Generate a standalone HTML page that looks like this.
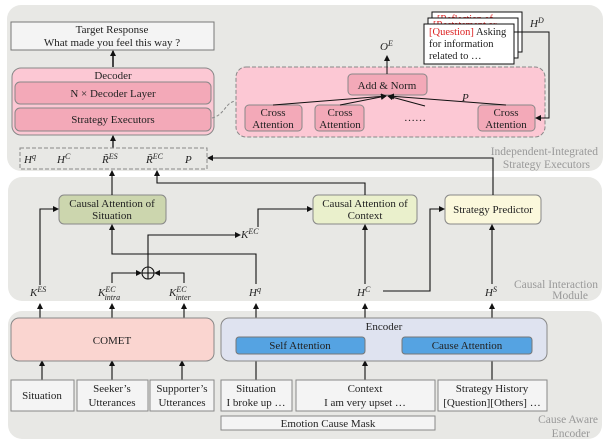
<!DOCTYPE html>
<html><head><meta charset="utf-8"><style>
html,body{margin:0;padding:0;background:#fff;width:613px;height:445px;overflow:hidden}
svg{display:block}
text{font-family:"Liberation Serif",serif;font-size:11px;fill:#222}
.i{font-style:italic}
.g{fill:#999;font-size:11.5px}
</style></head><body>
<svg width="613" height="445" viewBox="0 0 613 445" xmlns="http://www.w3.org/2000/svg">
<defs><marker id="a" markerWidth="6" markerHeight="6" refX="5" refY="3" orient="auto" markerUnits="userSpaceOnUse"><path d="M0,0 L6,3 L0,6z" fill="#111"/></marker></defs>
<!-- panels -->
<rect x="7" y="5" width="596" height="166" rx="14" fill="#e8e8e5"/>
<rect x="8" y="177" width="594" height="124" rx="14" fill="#e8e8e5"/>
<rect x="8" y="311" width="594" height="128" rx="14" fill="#e8e8e5"/>
<text class="g" x="598" y="155" text-anchor="end">Independent-Integrated</text>
<text class="g" x="590" y="168" text-anchor="end">Strategy Executors</text>
<text class="g" x="598" y="288" text-anchor="end">Causal Interaction</text>
<text class="g" x="588" y="299" text-anchor="end">Module</text>
<text class="g" x="598" y="423" text-anchor="end">Cause Aware</text>
<text class="g" x="590" y="437" text-anchor="end">Encoder</text>

<!-- top -->
<rect x="11" y="22" width="203" height="28" fill="#f4f4f4" stroke="#777"/>
<text x="112" y="33" text-anchor="middle">Target Response</text>
<text x="112" y="46" text-anchor="middle">What made you feel this way ?</text>
<line x1="113" y1="67" x2="113" y2="51" stroke="#111" stroke-width="1.5" marker-end="url(#a)"/>
<rect x="12" y="68" width="202" height="67" rx="9" fill="#fcc8d4" stroke="#888"/>
<text x="113" y="79" text-anchor="middle">Decoder</text>
<rect x="15" y="82" width="196" height="22" rx="5" fill="#f3a9b8" stroke="#888"/>
<text x="113" y="97" text-anchor="middle">N × Decoder Layer</text>
<rect x="15" y="108" width="196" height="23" rx="5" fill="#f3a9b8" stroke="#888"/>
<text x="113" y="123" text-anchor="middle">Strategy Executors</text>
<path d="M212,118 C225,115 225,102 236,101" fill="none" stroke="#888" stroke-dasharray="3,2"/>
<line x1="113" y1="148" x2="113" y2="136" stroke="#111" stroke-width="1.3" marker-end="url(#a)"/>
<rect x="20" y="148" width="187" height="21" fill="none" stroke="#888" stroke-dasharray="4,2"/>
<text class="i" x="24" y="163">H<tspan font-size="8" dy="-4">q</tspan></text>
<text class="i" x="57" y="163">H<tspan font-size="8" dy="-4">C</tspan></text>
<text class="i" x="102" y="163">R̃<tspan font-size="8" dy="-4">ES</tspan></text>
<text class="i" x="146" y="163">R̃<tspan font-size="8" dy="-4">EC</tspan></text>
<text class="i" x="185" y="163">P</text>

<rect x="236" y="67" width="309" height="70" rx="10" fill="#fcc8d4" stroke="#888" stroke-dasharray="4,2"/>
<rect x="348" y="74" width="79" height="21" rx="4" fill="#f3a9b8" stroke="#888"/>
<text x="387" y="89" text-anchor="middle">Add &amp; Norm</text>
<line x1="387" y1="74" x2="387" y2="56" stroke="#111" marker-end="url(#a)"/>
<text class="i" x="380" y="50">O<tspan font-size="8" dy="-4">E</tspan></text>
<rect x="245" y="105" width="57" height="26" rx="4" fill="#f3a9b8" stroke="#888"/>
<text x="273" y="116" text-anchor="middle">Cross</text><text x="273" y="128" text-anchor="middle">Attention</text>
<rect x="315" y="105" width="49" height="26" rx="4" fill="#f3a9b8" stroke="#888"/>
<text x="340" y="116" text-anchor="middle">Cross</text><text x="340" y="128" text-anchor="middle">Attention</text>
<rect x="478" y="105" width="57" height="26" rx="4" fill="#f3a9b8" stroke="#888"/>
<text x="506" y="116" text-anchor="middle">Cross</text><text x="506" y="128" text-anchor="middle">Attention</text>
<text x="415" y="121" text-anchor="middle">……</text>
<g stroke="#111" fill="none">
<line x1="273" y1="105" x2="386" y2="96" marker-end="url(#a)"/>
<line x1="340" y1="105" x2="386" y2="96" marker-end="url(#a)"/>
<line x1="425" y1="106" x2="388" y2="96" marker-end="url(#a)"/>
<line x1="506" y1="105" x2="389" y2="96" marker-end="url(#a)"/>
</g>
<text class="i" x="462" y="101">P</text>
<!-- docs -->
<rect x="432" y="12" width="90" height="40" fill="#fff" stroke="#111"/>
<text x="437" y="22" style="fill:#d22;font-size:10px">[Reflection of</text>
<rect x="428" y="18" width="90" height="40" fill="#fff" stroke="#111"/>
<text x="433" y="28" style="fill:#d22;font-size:10px">[Restatement or</text>
<rect x="424" y="24" width="90" height="40" fill="#fff" stroke="#111"/>
<text x="429" y="35" style="font-size:10.5px"><tspan fill="#d22">[Question]</tspan> Asking</text>
<text x="429" y="47" style="font-size:10.5px">for information</text>
<text x="429" y="59" style="font-size:10.5px">related to …</text>
<polyline points="514,32 549,32 549,118 536,118" fill="none" stroke="#111" marker-end="url(#a)"/>
<text class="i" x="530" y="27">H<tspan font-size="8" dy="-4">D</tspan></text>

<!-- middle -->
<rect x="59" y="195" width="107" height="29" rx="5" fill="#ccd6ae" stroke="#888"/>
<text x="112" y="207" text-anchor="middle">Causal Attention of</text>
<text x="112" y="219" text-anchor="middle">Situation</text>
<rect x="313" y="195" width="104" height="29" rx="5" fill="#eaf0cc" stroke="#888"/>
<text x="365" y="207" text-anchor="middle">Causal Attention of</text>
<text x="365" y="219" text-anchor="middle">Context</text>
<rect x="445" y="195" width="96" height="29" rx="5" fill="#fbf8dc" stroke="#888"/>
<text x="493" y="213" text-anchor="middle">Strategy Predictor</text>
<g stroke="#111" fill="none" stroke-width="1.1">
<line x1="112" y1="195" x2="112" y2="171" marker-end="url(#a)"/>
<polyline points="365,195 365,183 157,183 157,171" marker-end="url(#a)"/>
<polyline points="493,195 493,158 208,158" marker-end="url(#a)"/>
<polyline points="40,285 40,209 58,209" marker-end="url(#a)"/>
<polyline points="258,227 258,209 312,209" marker-end="url(#a)"/>
<polyline points="256,284 256,254 112,254 112,225" marker-end="url(#a)"/>
<polyline points="148,267 148,235 240,235" marker-end="url(#a)"/>
<circle cx="148" cy="273" r="6"/>
<line x1="142" y1="273" x2="154" y2="273"/><line x1="148" y1="267" x2="148" y2="279"/>
<polyline points="112,283 112,273 141,273" marker-end="url(#a)"/>
<polyline points="184,283 184,273 155,273" marker-end="url(#a)"/>
<line x1="365" y1="284" x2="365" y2="225" marker-end="url(#a)"/>
<polyline points="383,291 430,291 430,209 444,209" marker-end="url(#a)"/>
<line x1="492" y1="284" x2="492" y2="225" marker-end="url(#a)"/>
<line x1="40" y1="318" x2="40" y2="304" marker-end="url(#a)"/>
<line x1="112" y1="318" x2="112" y2="304" marker-end="url(#a)"/>
<line x1="184" y1="318" x2="184" y2="304" marker-end="url(#a)"/>
<line x1="256" y1="318" x2="256" y2="304" marker-end="url(#a)"/>
<line x1="365" y1="318" x2="365" y2="304" marker-end="url(#a)"/>
<line x1="492" y1="318" x2="492" y2="304" marker-end="url(#a)"/>
<line x1="42" y1="380" x2="42" y2="361" marker-end="url(#a)"/>
<line x1="112" y1="380" x2="112" y2="361" marker-end="url(#a)"/>
<line x1="182" y1="380" x2="182" y2="361" marker-end="url(#a)"/>
<line x1="256" y1="380" x2="256" y2="355" marker-end="url(#a)"/>
<line x1="365" y1="380" x2="365" y2="361" marker-end="url(#a)"/>
<line x1="492" y1="380" x2="492" y2="355" marker-end="url(#a)"/>
</g>
<text class="i" x="241" y="238">K<tspan font-size="8" dy="-4">EC</tspan></text>
<text class="i" x="30" y="296">K<tspan font-size="8" dy="-4">ES</tspan></text>
<text class="i" x="98" y="296">K<tspan font-size="8" dy="-4">EC</tspan><tspan font-size="8" dx="-11" dy="8">intra</tspan></text>
<text class="i" x="169" y="296">K<tspan font-size="8" dy="-4">EC</tspan><tspan font-size="8" dx="-11" dy="8">inter</tspan></text>
<text class="i" x="249" y="296">H<tspan font-size="8" dy="-4">q</tspan></text>
<text class="i" x="357" y="296">H<tspan font-size="8" dy="-4">C</tspan></text>
<text class="i" x="485" y="296">H<tspan font-size="8" dy="-4">S</tspan></text>

<!-- bottom -->
<rect x="11" y="318" width="203" height="43" rx="8" fill="#fad5d0" stroke="#888"/>
<text x="112" y="344" text-anchor="middle">COMET</text>
<rect x="221" y="318" width="326" height="43" rx="8" fill="#dfe3f0" stroke="#888"/>
<text x="384" y="330" text-anchor="middle">Encoder</text>
<rect x="236" y="337" width="129" height="17" rx="3" fill="#55a3e2" stroke="#777"/>
<text x="300" y="349" text-anchor="middle">Self Attention</text>
<rect x="402" y="337" width="130" height="17" rx="3" fill="#55a3e2" stroke="#777"/>
<text x="467" y="349" text-anchor="middle">Cause Attention</text>
<g fill="#f4f4f4" stroke="#888">
<rect x="11" y="380" width="63" height="31"/><rect x="77" y="380" width="71" height="31"/>
<rect x="150" y="380" width="64" height="31"/><rect x="221" y="380" width="71" height="31"/>
<rect x="296" y="380" width="139" height="31"/><rect x="438" y="380" width="109" height="31"/>
<rect x="221" y="416" width="214" height="14"/>
</g>
<text x="42" y="399" text-anchor="middle">Situation</text>
<text x="112" y="392" text-anchor="middle">Seeker’s</text><text x="112" y="406" text-anchor="middle">Utterances</text>
<text x="182" y="392" text-anchor="middle">Supporter’s</text><text x="182" y="406" text-anchor="middle">Utterances</text>
<text x="256" y="392" text-anchor="middle">Situation</text><text x="256" y="406" text-anchor="middle">I broke up …</text>
<text x="365" y="392" text-anchor="middle">Context</text><text x="365" y="406" text-anchor="middle">I am very upset …</text>
<text x="492" y="392" text-anchor="middle">Strategy History</text><text x="492" y="406" text-anchor="middle">[Question][Others] …</text>
<text x="328" y="427" text-anchor="middle">Emotion Cause Mask</text>
</svg>
</body></html>
